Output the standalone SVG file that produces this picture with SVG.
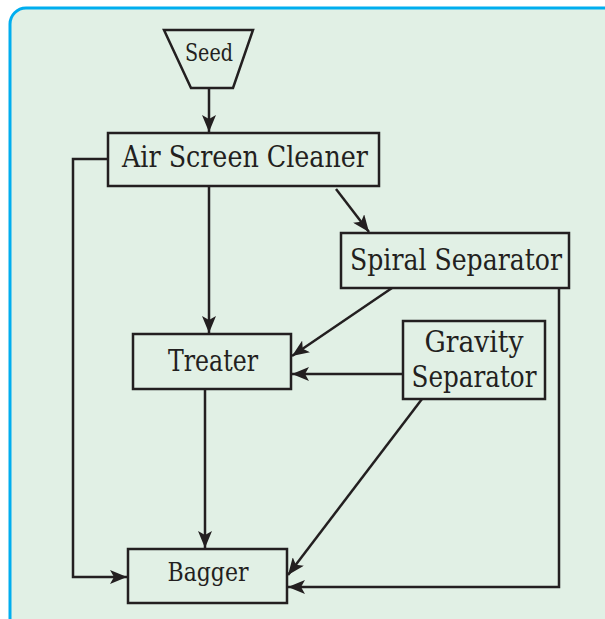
<svg xmlns="http://www.w3.org/2000/svg" width="605" height="619" viewBox="0 0 605 619">
<style>
.box{fill:none;stroke:#231f20;stroke-width:2.5}
.lbl{fill:#231f20;text-anchor:middle;font-family:"DejaVu Serif",serif}
.ln{fill:none;stroke:#231f20;stroke-width:2.5}
</style>
<defs>
<marker id="ah" markerUnits="userSpaceOnUse" markerWidth="18" markerHeight="14" viewBox="0 0 18 14" refX="17" refY="7" orient="auto">
<path d="M0,0 L17,7 L0,14 L4,7 z" fill="#231f20"/>
</marker>
</defs>
<rect x="10" y="8" width="630" height="640" rx="16" fill="#e1f0e5" stroke="#00aeef" stroke-width="3"/>
<g id="seed">
<polygon class="box" points="164,30 253,30 233,88 191,88"/>
<text class="lbl" x="209" y="61" font-size="24" textLength="48" lengthAdjust="spacingAndGlyphs">Seed</text>
</g>
<g id="air-screen-cleaner">
<rect class="box" x="108" y="133" width="271" height="53"/>
<text class="lbl" x="245" y="167" font-size="29" textLength="246" lengthAdjust="spacingAndGlyphs">Air Screen Cleaner</text>
</g>
<g id="spiral-separator">
<rect class="box" x="341" y="233" width="228" height="55"/>
<text class="lbl" x="456" y="270" font-size="29" textLength="212" lengthAdjust="spacingAndGlyphs">Spiral Separator</text>
</g>
<g id="gravity-separator">
<rect class="box" x="403" y="321" width="142" height="78"/>
<text class="lbl" x="474" y="352" font-size="29" textLength="99" lengthAdjust="spacingAndGlyphs">Gravity</text>
<text class="lbl" x="474" y="387" font-size="29" textLength="125" lengthAdjust="spacingAndGlyphs">Separator</text>
</g>
<g id="treater">
<rect class="box" x="133" y="334" width="158" height="55"/>
<text class="lbl" x="213" y="371" font-size="29" textLength="90" lengthAdjust="spacingAndGlyphs">Treater</text>
</g>
<g id="bagger">
<rect class="box" x="128" y="549" width="159" height="54"/>
<text class="lbl" x="208" y="581" font-size="26" textLength="81" lengthAdjust="spacingAndGlyphs">Bagger</text>
</g>
<g id="connectors">
<line class="ln" x1="209" y1="88" x2="209" y2="132" marker-end="url(#ah)"/>
<line class="ln" x1="209" y1="186" x2="209" y2="333" marker-end="url(#ah)"/>
<line class="ln" x1="336" y1="189" x2="369" y2="232" marker-end="url(#ah)"/>
<line class="ln" x1="392" y1="288" x2="292" y2="356" marker-end="url(#ah)"/>
<line class="ln" x1="403" y1="374" x2="292" y2="374" marker-end="url(#ah)"/>
<line class="ln" x1="205" y1="389" x2="205" y2="548" marker-end="url(#ah)"/>
<line class="ln" x1="422" y1="399" x2="288" y2="575" marker-end="url(#ah)"/>
<polyline class="ln" points="108,159 73,159 73,577 127,577" marker-end="url(#ah)"/>
<polyline class="ln" points="559,288 559,587 288,587" marker-end="url(#ah)"/>
</g>
</svg>
